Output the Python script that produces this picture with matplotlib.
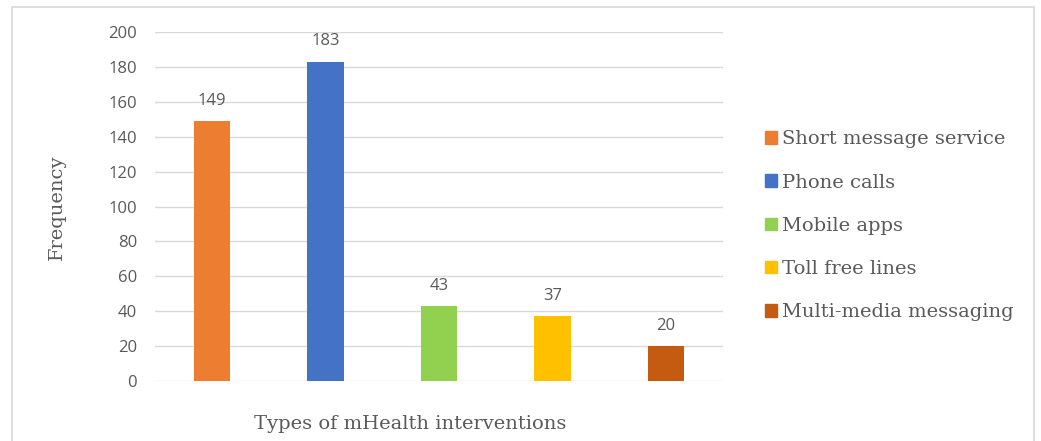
import matplotlib.pyplot as plt
import matplotlib.patches as mpatches
import numpy as np

categories = ["Short message service", "Phone calls", "Mobile apps",
              "Toll free lines", "Multi-media messaging"]
values = [149, 183, 43, 37, 20]
colors = ["#ED7D31", "#4472C4", "#92D050", "#FFC000", "#C55A11"]
yticks = [0, 20, 40, 60, 80, 100, 120, 140, 160, 180, 200]

txt = "#595959"
serif = ["DejaVu Serif"]
sans = ["Open Sans", "DejaVu Sans"]

fig = plt.figure(figsize=(10.41, 4.41), dpi=100)
ax = fig.add_axes([0.1489, 0.136, 0.5456, 0.7914])

x = np.arange(len(categories))
bars = ax.bar(x, values, width=0.32, color=colors, zorder=3)
for b, v in zip(bars, values):
    ax.text(b.get_x() + b.get_width() / 2, v + 7, str(v), ha="center", va="bottom",
            fontsize=12, color=txt, family=sans)

ax.set_xlim(-0.5, len(categories) - 0.5)
ax.set_ylim(0, 200)
ax.set_yticks(yticks)
ax.set_yticklabels([str(t) for t in yticks], family=sans, fontsize=12, color=txt)
ax.set_xticks([])
ax.tick_params(axis="y", length=0, pad=13)
ax.grid(axis="y", color="#d9d9d9", linewidth=1, zorder=0)
for s in ax.spines.values():
    s.set_visible(False)

fig.text(0.055, 0.53, "Frequency", rotation=90, ha="center", va="center",
         fontsize=14, color=txt, family=serif)
fig.text(0.394, 0.038, "Types of mHealth interventions", ha="center", va="center",
         fontsize=14, color=txt, family=serif)

handles = [mpatches.Patch(color=c, label=l) for c, l in zip(colors, categories)]
fig.legend(handles=handles, loc="center left", bbox_to_anchor=(0.718, 0.488),
           frameon=False, handlelength=0.6, handleheight=0.6,
           handletextpad=0.3, labelspacing=1.3, labelcolor=txt,
           prop={"family": serif, "size": 14})

fig.add_artist(mpatches.Rectangle((0.0115, -0.01), 0.982, 0.994, transform=fig.transFigure,
                                  fill=False, edgecolor="#d9d9d9", linewidth=1.2))

fig.savefig("out.png", dpi=100)
